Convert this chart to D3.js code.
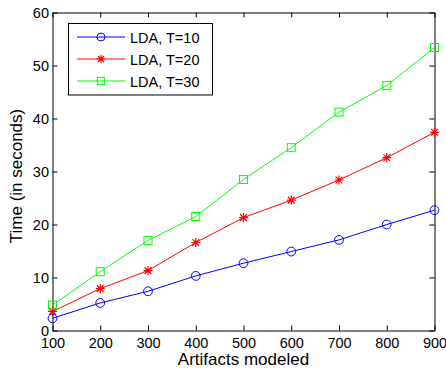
<!DOCTYPE html>
<html><head><meta charset="utf-8">
<script src="https://cdn.jsdelivr.net/npm/d3@7"></script>
<style>body{margin:0;background:#fff}svg{display:block}text{font-family:Arial,"Liberation Sans",Helvetica,sans-serif}</style>
</head><body>
<svg id="c" width="446" height="368"></svg>
<script>
const categories = [100,200,300,400,500,600,700,800,900];
const t10 = [2.3,5.2,7.4,10.3,12.7,14.9,17.1,20.0,22.7];
const t20 = [3.6,7.9,11.3,16.6,21.3,24.6,28.4,32.6,37.4];
const t30 = [4.8,11.1,17.0,21.5,28.5,34.5,41.2,46.2,53.4];
const seriesNames = ["LDA, T=10","LDA, T=20","LDA, T=30"];
const xTicks = [100,200,300,400,500,600,700,800,900];
const yTicks = [0,10,20,30,40,50,60];

const svg = d3.select("#c");
const L=52.5,R=434.5,T=12.5,B=330.5;
const x = d3.scaleLinear().domain([100,900]).range([L,R]);
const y = d3.scaleLinear().domain([0,60]).range([B,T]);

const series = [
  {name:seriesNames[0], vals:t10, color:"#0000ff", marker:"circle"},
  {name:seriesNames[1], vals:t20, color:"#ff0000", marker:"star"},
  {name:seriesNames[2], vals:t30, color:"#00ff00", marker:"square"}
];

function drawMarker(g, type, color, cx, cy, k){
  k = k || 1;
  if(type==="circle"){
    g.append("circle").attr("cx",cx).attr("cy",cy).attr("r",4.4*k).attr("fill","none").attr("stroke",color).attr("stroke-width",1);
  } else if(type==="square"){
    const h=4*k;
    g.append("rect").attr("x",cx-h).attr("y",cy-h).attr("width",2*h).attr("height",2*h).attr("fill","none").attr("stroke",color).attr("stroke-width",1);
  } else {
    const s=4.5*k;
    g.append("path").attr("d",`M${cx-s},${cy}H${cx+s}M${cx},${cy-s}V${cy+s}M${cx-s*0.75},${cy-s*0.75}L${cx+s*0.75},${cy+s*0.75}M${cx-s*0.75},${cy+s*0.75}L${cx+s*0.75},${cy-s*0.75}`)
      .attr("stroke",color).attr("stroke-width",1.2).attr("fill","none");
  }
}

// axes
const xb = svg.append("g").attr("transform",`translate(0,${B})`)
  .call(d3.axisBottom(x).tickValues(xTicks).tickSizeInner(-5).tickSizeOuter(0).tickPadding(7));
const xt = svg.append("g").attr("transform",`translate(0,${T})`)
  .call(d3.axisTop(x).tickValues(xTicks).tickSizeInner(-5).tickSizeOuter(0).tickFormat(""));
const yl = svg.append("g").attr("transform",`translate(${L},0)`)
  .call(d3.axisLeft(y).tickValues(yTicks).tickSizeInner(-5).tickSizeOuter(0).tickPadding(3.5));
const yr = svg.append("g").attr("transform",`translate(${R},0)`)
  .call(d3.axisRight(y).tickValues(yTicks).tickSizeInner(-5).tickSizeOuter(0).tickFormat(""));
[xb,xt,yl,yr].forEach(g=>{
  g.selectAll("path.domain").attr("stroke","#000").attr("stroke-width",1);
  g.selectAll("line").attr("stroke","#000");
  g.selectAll("text").attr("font-size",14.5).attr("fill","#000").attr("font-family","Arial, Liberation Sans, sans-serif");
});

// lines
const line = d3.line().x((d,i)=>x(categories[i])).y(d=>y(d));
series.forEach(s=>{
  svg.append("path").datum(s.vals).attr("d",line).attr("fill","none").attr("stroke",s.color).attr("stroke-width",1);
  const g = svg.append("g");
  s.vals.forEach((v,i)=>drawMarker(g,s.marker,s.color,x(categories[i]),y(v)));
});

// legend
const lg = svg.append("g");
lg.append("rect").attr("x",68.5).attr("y",23.5).attr("width",144).attr("height",71.5).attr("fill","#fff").attr("stroke","#000").attr("stroke-width",1);
series.forEach((s,i)=>{
  const yy = 37 + i*22;
  lg.append("line").attr("x1",77).attr("x2",125).attr("y1",yy).attr("y2",yy).attr("stroke",s.color).attr("stroke-width",1);
  drawMarker(lg,s.marker,s.color,101,yy,0.9);
  lg.append("text").attr("x",130).attr("y",yy+5.5).attr("font-size",14.5).attr("fill","#000").text(s.name);
});

// axis labels
svg.append("text").attr("x",(L+R)/2).attr("y",365).attr("text-anchor","middle").attr("font-size",17).attr("fill","#000").text("Artifacts modeled");
svg.append("text").attr("transform",`translate(22,176) rotate(-90)`).attr("text-anchor","middle").attr("font-size",17).attr("fill","#000").text("Time (in seconds)");
</script>
</body></html>
